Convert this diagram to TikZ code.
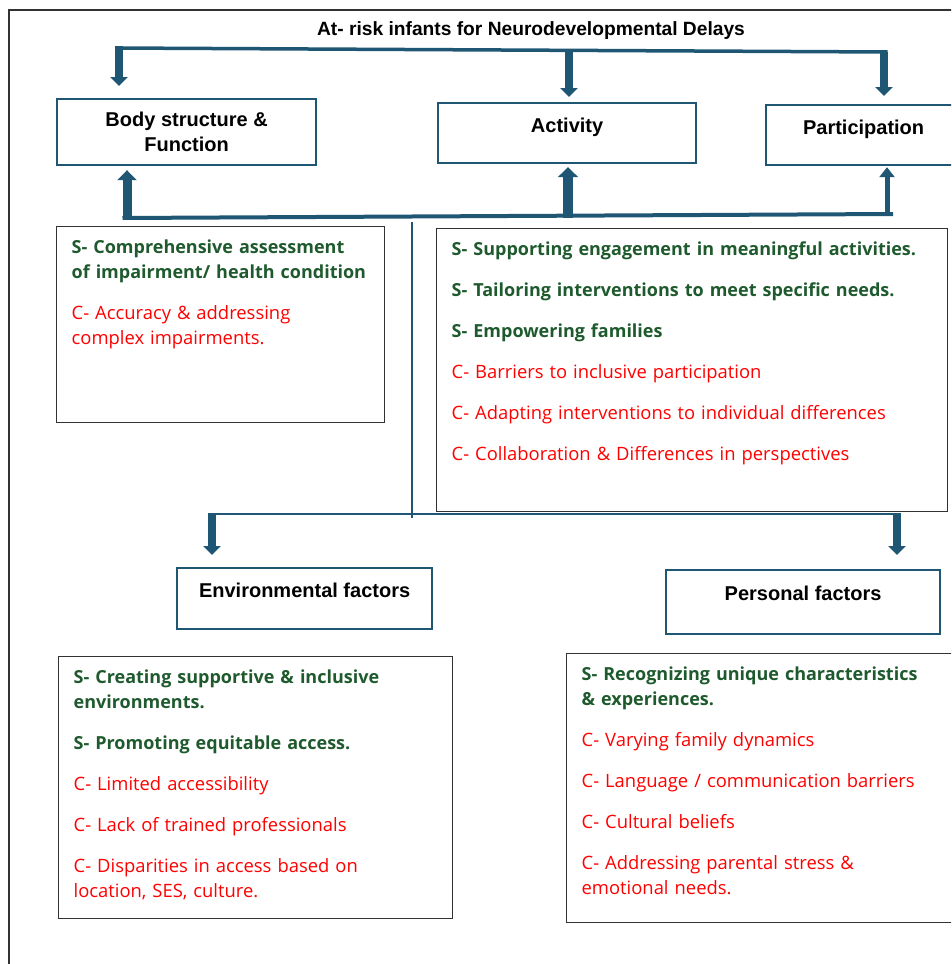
\documentclass[tikz,border=0pt]{standalone}
\usepackage{fontspec}
\setmainfont{Open Sans}
\newfontfamily\hdfont{Liberation Sans}
\usetikzlibrary{arrows.meta,calc}

\definecolor{icfteal}{RGB}{31,86,115}
\definecolor{icfgreen}{RGB}{30,90,45}
\definecolor{icfred}{RGB}{255,0,0}
\definecolor{boxgray}{RGB}{50,50,50}

\newcommand{\strength}[1]{{\color{icfgreen}\fontsize{18}{25}\selectfont\bfseries #1}}
\newcommand{\challenge}[1]{{\color{icfred}\fontsize{18.4}{25}\selectfont #1}}

\tikzset{
  hdbox/.style={draw=icfteal, line width=2.2pt, anchor=north west, inner sep=0pt,
    font=\hdfont\bfseries\fontsize{20}{25}\selectfont, align=center},
  oneline/.style={text height=15pt, text depth=17pt},
  txtbox/.style={draw=boxgray, line width=1.3pt, anchor=north west, inner xsep=15pt,
    inner ysep=0pt, align=left, text height=27pt, font=\fontsize{18}{25}\selectfont},
  bar/.style={icfteal, line width=#1},
  dnarrow/.style={icfteal, line width=7.5pt, -{Triangle[length=9pt,width=17pt]}},
  uparrow/.style={icfteal, line width=#1, -{Triangle[length=10pt,width=#1+10pt]}},
}

\begin{document}
\begin{tikzpicture}[x=1pt,y=-1pt]
\clip (0,0) rectangle (951,964);
\draw[boxgray, line width=1.5pt] (9,10) rectangle (970,990);

\node[font=\hdfont\bfseries\fontsize{19.2}{22}\selectfont] (title) at (531,31) {At- risk infants for Neurodevelopmental Delays};

% the three upper boxes
\node[hdbox, minimum width=259pt, minimum height=66pt] (body) at (56,98) {Body structure \&\\ Function};
\node[hdbox, oneline, minimum width=258pt, minimum height=60pt] (activity) at (437,102) {Activity};
\node[hdbox, oneline, minimum width=195pt, minimum height=60pt] (particip) at (765,104) {Participation};

% top bar and arrows down
\coordinate (tl) at (119,48);
\coordinate (tm) at (569,50.5);
\coordinate (tr) at (884,52);
\draw[bar=3.5pt] ($(tl)+(-3.7,0)$) -- ($(tr)+(3.7,0)$);
\draw[dnarrow] ($(tl)+(0,-2)$) -- ($(tl |- body.north)+(0,-12)$);
\draw[dnarrow] (tm) -- ($(tm |- activity.north)+(0,-5)$);
\draw[dnarrow] (tr) -- ($(tr |- particip.north)+(0,-8)$);

% bottom bar and arrows up
\coordinate (bl) at (127,218);
\coordinate (bm) at (568,216);
\coordinate (br) at (887,214);
\draw[bar=4pt] ($(bl)+(-4.5,0)$) -- ($(br)+(6,0)$);
\draw[uparrow=9pt] ($(bl)+(0,2)$) -- ($(bl |- body.south)+(0,4)$);
\draw[uparrow=10pt] ($(bm)+(0,2)$) -- ($(bm |- activity.south)+(0,3)$);
\draw[uparrow=5pt] ($(br)+(0,2)$) -- ($(br |- particip.south)+(0,1)$);

% text boxes under the upper boxes
\node[txtbox, text width=298pt, text depth=169pt] (bodytxt) at (56,226)
  {\strength{S- Comprehensive assessment}\\
   \strength{of impairment/ health condition}\\[16pt]
   \challenge{C- Accuracy \& addressing}\\
   \challenge{complex impairments.}};
\node[txtbox, text width=481pt, text depth=256pt] (acttxt) at (436,228)
  {\strength{S- Supporting engagement in meaningful activities.}\\[16pt]
   \strength{S- Tailoring interventions to meet specific needs.}\\[16pt]
   \strength{S- Empowering families}\\[16pt]
   \challenge{C- Barriers to inclusive participation}\\[16pt]
   \challenge{C- Adapting interventions to individual differences}\\[16pt]
   \challenge{C- Collaboration \& Differences in perspectives}};

% split down to the contextual factors
\coordinate (vt) at (412,222);
\coordinate (vb) at (412,518);
\coordinate (sl) at (212,514);
\coordinate (sr) at (897,514);
\draw[bar=2.2pt] (vt) -- (vb);
\draw[bar=1.8pt] ($(sl)+(-3.7,0)$) -- ($(sr)+(3.7,0)$);

\node[hdbox, oneline, minimum width=255pt, minimum height=61pt] (envhd) at (176,567) {Environmental factors};
\node[hdbox, oneline, text depth=19pt, minimum width=274pt, minimum height=64pt] (perhd) at (665,569) {Personal factors};

\draw[dnarrow] ($(sl)+(0,-1)$) -- ($(sl |- envhd.north)+(0,-12)$);
\draw[dnarrow] ($(sr)+(0,-1)$) -- ($(sr |- perhd.north)+(0,-14)$);

% text boxes under the contextual factors
\node[txtbox, text width=364pt, text depth=235pt] (envtxt) at (58,656)
  {\strength{S- Creating supportive \& inclusive}\\
   \strength{environments.}\\[16pt]
   \strength{S- Promoting equitable access.}\\[16pt]
   \challenge{C- Limited accessibility}\\[16pt]
   \challenge{C- Lack of trained professionals}\\[16pt]
   \challenge{C- Disparities in access based on}\\
   \challenge{location, SES, culture.}};
\node[txtbox, text width=370pt, text depth=242pt] (pertxt) at (566,653)
  {\strength{S- Recognizing unique characteristics}\\
   \strength{\& experiences.}\\[16pt]
   \challenge{C- Varying family dynamics}\\[16pt]
   \challenge{C- Language / communication barriers}\\[16pt]
   \challenge{C- Cultural beliefs}\\[16pt]
   \challenge{C- Addressing parental stress \&}\\
   \challenge{emotional needs.}};
\end{tikzpicture}
\end{document}
